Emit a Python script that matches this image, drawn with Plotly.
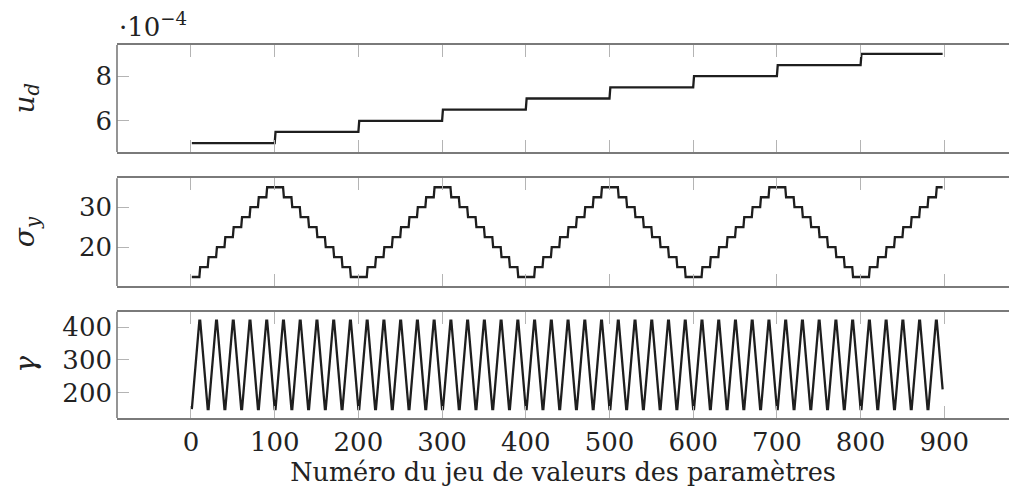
import plotly.graph_objects as go
from plotly.subplots import make_subplots

# ---- data ----
ud_levels = [5.0, 5.5, 6.0, 6.5, 7.0, 7.5, 8.0, 8.5, 9.0]          # x 1e-4
sigma_levels = [12.5, 15.0, 17.5, 20.0, 22.5, 25.0, 27.5, 30.0, 32.5, 35.0]
gamma_levels = [150, 180, 210, 240, 270, 300, 330, 360, 390, 420]
n_sets = 898
x_ticks = [0, 100, 200, 300, 400, 500, 600, 700, 800, 900]
ud_ticks = [6, 8]
sigma_ticks = [20, 30]
gamma_ticks = [200, 300, 400]

# full-factorial ordering of the parameter sets (zig-zag over levels)
x, ud, sigma, gamma = [], [], [], []
for i in range(n_sets):
    x.append(i + 1)
    ud.append(ud_levels[i // 100])
    b = (i // 10) % 20
    sigma.append(sigma_levels[b if b < 10 else 19 - b])
    g = i % 20
    gamma.append(gamma_levels[g if g < 10 else 19 - g])

FONT = "DejaVu Serif"
LINE = "#1e1e1e"
FRAME = "#7a7a7a"
TICK = "#b4b4b4"
FS = 26

fig = make_subplots(rows=3, cols=1, shared_xaxes=False, vertical_spacing=0.0)
for r, y in enumerate([ud, sigma, gamma], start=1):
    fig.add_trace(go.Scatter(x=x, y=y, mode="lines",
                             line=dict(color=LINE, width=2.3), showlegend=False),
                  row=r, col=1)

H = 373.0
doms = [[(418 - 152) / H, 1.0], [(418 - 286) / H, (418 - 178.3) / H], [0.0, (418 - 311.7) / H]]
yranges = [[4.6, 9.4], [10.25, 37.25], [123, 447]]
yticks = [ud_ticks, sigma_ticks, gamma_ticks]
xr = [-88.4, 977.3]

for r in range(1, 4):
    xa = "xaxis" if r == 1 else f"xaxis{r}"
    ya = "yaxis" if r == 1 else f"yaxis{r}"
    fig.layout[xa].update(
        range=xr, showline=True, linecolor=FRAME, linewidth=1.6, mirror="ticks",
        ticks="inside", ticklen=12, tickcolor=TICK, tickwidth=1.3,
        tickvals=x_ticks, showticklabels=(r == 3), showgrid=False, zeroline=False,
        tickfont=dict(family=FONT, size=FS, color="#222"),
    )
    fig.layout[ya].update(
        domain=doms[r - 1], range=yranges[r - 1], showline=False,
        ticks="inside", ticklen=12, tickcolor=TICK, tickwidth=1.3,
        tickvals=yticks[r - 1], showgrid=False, zeroline=False,
        tickfont=dict(family=FONT, size=FS, color="#222"), ticklabelstandoff=4,
    )
    xref = "x" if r == 1 else f"x{r}"
    yref = "y" if r == 1 else f"y{r}"
    fig.add_shape(type="line", xref=f"{xref} domain", yref=f"{yref} domain",
                  x0=0, x1=0, y0=0, y1=1, line=dict(color=FRAME, width=1.6))

fig.layout.xaxis3.title = dict(text="Numéro du jeu de valeurs des paramètres",
                               font=dict(family=FONT, size=25.5, color="#222"), standoff=6)

ylabels = ["<i>u</i><sub><i>d</i></sub>", "<i>σ</i><sub><i>y</i></sub>", "<i>γ</i>"]
for lab, d in zip(ylabels, doms):
    fig.add_annotation(text=lab, xref="paper", yref="paper", x=(26 - 117) / 892.0,
                       y=(d[0] + d[1]) / 2, textangle=-90, showarrow=False,
                       xanchor="center", yanchor="middle",
                       font=dict(family=FONT, size=28, color="#222"))

fig.add_annotation(text="·10<sup>−4</sup>", xref="paper", yref="paper",
                   x=0.0, y=1.0, xanchor="left", yanchor="bottom", yshift=1,
                   showarrow=False, font=dict(family=FONT, size=FS, color="#222"))

fig.update_layout(width=1009, height=500, margin=dict(l=117, r=0, t=45, b=82),
                  plot_bgcolor="white", paper_bgcolor="white")
fig.write_html("out.html", config={"displayModeBar": False},
               post_script="document.body.style.margin='0';document.body.style.overflow='hidden';")
